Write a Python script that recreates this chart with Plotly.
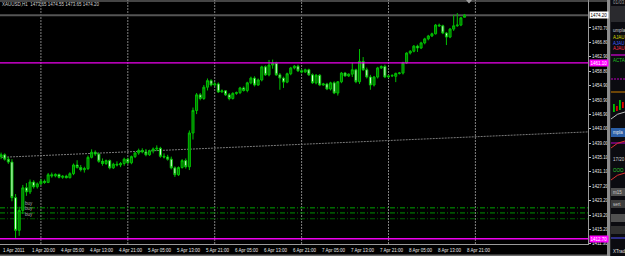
import plotly.graph_objects as go

# ---------------- data (XAUUSD H1) ----------------
bar_open = [1435.3, 1435.8, 1434.6, 1433.8, 1424.0, 1415.0, 1420.5, 1426.7, 1425.6, 1428.3,
            1427.0, 1427.8, 1428.5, 1428.2, 1430.3, 1430.0, 1430.4, 1429.6, 1429.9, 1429.5,
            1430.6, 1433.0, 1432.3, 1431.7, 1432.0, 1435.1, 1436.5, 1436.0, 1434.0, 1433.4,
            1434.2, 1432.2, 1433.2, 1433.0, 1433.4, 1434.6, 1433.6, 1435.3, 1436.3, 1437.0,
            1436.6, 1435.8, 1436.9, 1437.4, 1437.6, 1435.4, 1435.2, 1434.6, 1432.2, 1430.3,
            1432.3, 1434.2, 1432.5, 1441.8, 1448.0, 1452.3, 1451.3, 1454.4, 1456.2, 1455.0,
            1455.3, 1453.1, 1453.4, 1452.3, 1451.3, 1452.7, 1452.9, 1454.2, 1453.5, 1455.6,
            1456.9, 1455.0, 1456.4, 1460.0, 1457.8, 1460.5, 1461.0, 1457.8, 1456.9, 1455.8,
            1458.1, 1459.7, 1460.2, 1458.9, 1458.6, 1459.2, 1457.8, 1455.6, 1457.7, 1455.0,
            1455.3, 1453.9, 1455.6, 1452.8, 1455.9, 1458.3, 1457.5, 1458.0, 1459.2, 1455.9,
            1461.5, 1459.2, 1457.2, 1455.0, 1457.2, 1459.7, 1460.1, 1457.2, 1457.5, 1457.4,
            1458.2, 1458.3, 1461.1, 1463.8, 1464.3, 1465.7, 1465.2, 1466.6, 1467.7, 1468.5,
            1469.1, 1471.5, 1471.3, 1469.3, 1468.2, 1470.4, 1471.3, 1471.5, 1473.65]
bar_high = [1436.4, 1436.2, 1435.2, 1434.6, 1425.0, 1421.5, 1427.5, 1428.0, 1429.0, 1428.8,
            1428.2, 1429.2, 1429.0, 1430.8, 1430.9, 1430.7, 1430.6, 1430.2, 1430.3, 1431.0,
            1433.4, 1434.3, 1433.0, 1432.5, 1435.6, 1437.3, 1437.0, 1436.4, 1434.8, 1434.5,
            1434.5, 1433.6, 1434.0, 1433.8, 1435.0, 1435.0, 1435.6, 1436.6, 1437.5, 1437.6,
            1437.4, 1437.2, 1437.8, 1438.4, 1438.0, 1436.2, 1435.8, 1435.3, 1432.6, 1432.6,
            1434.6, 1434.8, 1442.5, 1448.8, 1452.8, 1452.8, 1455.0, 1456.8, 1456.6, 1455.8,
            1455.7, 1453.8, 1453.6, 1452.8, 1453.0, 1453.2, 1454.5, 1454.6, 1455.9, 1457.3,
            1457.4, 1456.8, 1460.3, 1460.4, 1461.9, 1462.0, 1461.4, 1458.3, 1457.3, 1458.4,
            1460.0, 1460.5, 1460.6, 1459.4, 1459.5, 1459.5, 1458.2, 1458.0, 1458.0, 1455.6,
            1455.6, 1455.9, 1456.0, 1456.1, 1458.6, 1458.6, 1458.2, 1461.1, 1459.5, 1464.9,
            1462.7, 1459.8, 1457.8, 1457.5, 1460.0, 1460.4, 1460.6, 1457.8, 1458.0, 1458.4,
            1458.6, 1461.4, 1464.0, 1464.6, 1466.0, 1466.1, 1466.9, 1468.0, 1468.8, 1469.4,
            1471.8, 1471.9, 1471.6, 1469.6, 1470.7, 1474.3, 1474.8, 1473.7, 1474.55]
bar_low = [1434.6, 1434.2, 1433.3, 1423.0, 1412.7, 1413.5, 1419.5, 1424.5, 1425.0, 1426.5,
           1426.5, 1427.5, 1427.8, 1428.0, 1429.5, 1429.6, 1429.3, 1429.2, 1429.3, 1429.3,
           1430.2, 1432.0, 1431.2, 1430.9, 1431.6, 1434.8, 1435.5, 1433.6, 1432.8, 1433.0,
           1431.8, 1431.9, 1432.6, 1432.4, 1432.8, 1433.2, 1433.2, 1434.9, 1435.8, 1436.2,
           1435.4, 1435.5, 1436.2, 1436.8, 1435.0, 1434.8, 1434.2, 1431.8, 1429.7, 1430.0,
           1432.0, 1432.0, 1431.6, 1440.0, 1447.0, 1450.8, 1450.9, 1453.5, 1454.6, 1454.7,
           1452.8, 1452.9, 1452.0, 1450.8, 1451.0, 1452.3, 1452.5, 1453.2, 1453.0, 1455.2,
           1454.6, 1454.8, 1456.0, 1457.5, 1457.4, 1459.5, 1457.5, 1453.7, 1454.2, 1455.5,
           1457.7, 1459.3, 1458.6, 1458.2, 1458.3, 1457.5, 1455.3, 1455.2, 1454.7, 1454.8,
           1453.6, 1453.5, 1452.5, 1452.1, 1455.5, 1457.3, 1457.2, 1457.2, 1455.5, 1455.3,
           1458.9, 1456.8, 1453.7, 1454.6, 1456.8, 1459.4, 1456.9, 1457.0, 1457.2, 1455.8,
           1457.9, 1457.9, 1460.8, 1463.4, 1464.0, 1464.1, 1464.9, 1466.2, 1467.3, 1468.2,
           1468.9, 1471.0, 1469.0, 1466.0, 1467.9, 1469.9, 1471.0, 1471.2, 1473.65]
bar_close = [1435.8, 1434.6, 1433.8, 1424.0, 1415.0, 1420.5, 1426.7, 1425.6, 1428.3, 1427.0,
             1427.8, 1428.5, 1428.2, 1430.3, 1430.0, 1430.4, 1429.6, 1429.9, 1429.5, 1430.6,
             1433.0, 1432.3, 1431.7, 1432.0, 1435.1, 1436.5, 1436.0, 1434.0, 1433.4, 1434.2,
             1432.2, 1433.2, 1433.0, 1433.4, 1434.6, 1433.6, 1435.3, 1436.3, 1437.0, 1436.6,
             1435.8, 1436.9, 1437.4, 1437.6, 1435.4, 1435.2, 1434.6, 1432.2, 1430.3, 1432.3,
             1434.2, 1432.5, 1441.8, 1448.0, 1452.3, 1451.3, 1454.4, 1456.2, 1455.0, 1455.3,
             1453.1, 1453.4, 1452.3, 1451.3, 1452.7, 1452.9, 1454.2, 1453.5, 1455.6, 1456.9,
             1455.0, 1456.4, 1460.0, 1457.8, 1460.5, 1461.0, 1457.8, 1456.9, 1455.8, 1458.1,
             1459.7, 1460.2, 1458.9, 1458.6, 1459.2, 1457.8, 1455.6, 1457.7, 1455.0, 1455.3,
             1453.9, 1455.6, 1452.8, 1455.9, 1458.3, 1457.5, 1458.0, 1459.2, 1455.9, 1461.5,
             1459.2, 1457.2, 1455.0, 1457.2, 1459.7, 1460.1, 1457.2, 1457.5, 1457.6, 1458.2,
             1458.3, 1461.1, 1463.8, 1464.3, 1465.7, 1465.2, 1466.6, 1467.7, 1468.5, 1469.1,
             1471.5, 1471.3, 1469.3, 1468.2, 1470.4, 1471.3, 1471.5, 1473.5, 1474.20]
bar_index = list(range(len(bar_close)))

time_label_pos = [0, 8, 16, 24, 32, 40, 48, 56, 64, 72, 80, 88, 96, 104, 112, 120, 128]
time_labels = ["1 Apr 2011", "1 Apr 20:00", "4 Apr 05:00", "4 Apr 13:00", "4 Apr 21:00",
               "5 Apr 05:00", "5 Apr 13:00", "5 Apr 21:00", "6 Apr 05:00", "6 Apr 13:00",
               "6 Apr 21:00", "7 Apr 05:00", "7 Apr 13:00", "7 Apr 21:00", "8 Apr 05:00",
               "8 Apr 13:00", "8 Apr 21:00"]
day_separators = [11, 35, 59, 83, 107, 131]

price_ticks = [1470.70, 1466.80, 1462.90, 1458.80, 1454.90, 1450.90, 1446.90, 1443.00,
               1439.00, 1435.10, 1431.10, 1427.20, 1423.20, 1419.20, 1415.20, 1411.30]
bid_price = 1474.20
magenta_levels = [1461.10, 1412.70]
buy_levels = [1421.20, 1419.80, 1418.20]
buy_names = ["buy", "buy", "buy"]
trend_x = [0, 162]
trend_y = [1435.1, 1442.1]
title_text = "XAUUSD,H1  1473.65 1474.55 1473.65 1474.20"

# ---------------- figure ----------------
W, H = 625, 256
PW, PH = 588, 244
FONT = "Liberation Sans, Arial, sans-serif"
FS = 4.5

def px(X):
    return X / PW

def py(Y):
    return 1 - Y / PH

fig = go.Figure()
fig.add_trace(go.Candlestick(
    x=bar_index, open=bar_open, high=bar_high, low=bar_low, close=bar_close,
    increasing=dict(line=dict(color="#00c000", width=1), fillcolor="#007000"),
    decreasing=dict(line=dict(color="#00c000", width=1), fillcolor="#e6ffe6"),
    whiskerwidth=0, showlegend=False, hoverinfo="skip"))

shapes = []
for d in day_separators:
    shapes.append(dict(type="line", xref="x", yref="paper", x0=d, x1=d, y0=0, y1=1,
                       line=dict(color="#808080", width=1, dash="2px,1px"), layer="below"))
shapes.append(dict(type="line", xref="x", yref="y", x0=trend_x[0], x1=trend_x[1],
                   y0=trend_y[0], y1=trend_y[1],
                   line=dict(color="#7a7a7a", width=1, dash="2px,1px"), layer="below"))
buy_colors = ["#00a000", "#009000", "#005a00"]
for lvl, c in zip(buy_levels, buy_colors):
    shapes.append(dict(type="line", xref="paper", yref="y", x0=0, x1=1, y0=lvl, y1=lvl,
                       line=dict(color=c, width=1, dash="5px,2px,1px,2px"), layer="below"))
shapes.append(dict(type="line", xref="paper", yref="y", x0=0, x1=1, y0=bid_price, y1=bid_price,
                   line=dict(color="#555555", width=2), layer="below"))
for lvl in magenta_levels:
    shapes.append(dict(type="line", xref="paper", yref="y", x0=0, x1=1, y0=lvl, y1=lvl,
                       line=dict(color="#f000f0", width=1.4), layer="above"))
# top window border
shapes.append(dict(type="line", xref="paper", yref="paper", x0=0, x1=px(607), y0=py(1), y1=py(1),
                   line=dict(color="#8a8a8a", width=1)))
# chart shift marker
shapes.append(dict(type="path", xref="paper", yref="paper",
                   path=f"M {px(466)},{py(0)} L {px(472)},{py(0)} L {px(469)},{py(3.5)} Z",
                   fillcolor="#a0a0a0", line=dict(width=0)))
# bottom border strip
shapes.append(dict(type="rect", xref="paper", yref="paper", x0=0, x1=px(607), y0=py(256), y1=py(254.5),
                   fillcolor="#6a6a6a", line=dict(width=0)))

# right-hand partial window
shapes.append(dict(type="rect", xref="paper", yref="paper", x0=px(607), x1=px(610.5), y0=py(256), y1=py(0),
                   fillcolor="#8c8c8c", line=dict(width=0)))
shapes.append(dict(type="rect", xref="paper", yref="paper", x0=px(610.5), x1=px(625), y0=py(256), y1=py(0),
                   fillcolor="#0b0b10", line=dict(width=0)))
shapes.append(dict(type="rect", xref="paper", yref="paper", x0=px(610.5), x1=px(625), y0=py(22), y1=py(6),
                   fillcolor="#2a2a2e", line=dict(width=0)))
panel_lines = [(55, "#ff00ff", "solid"), (79, "#c000c0", "2px,1px"), (92, "#d08000", "solid"),
               (143, "#c000c0", "solid"), (238, "#5050ff", "solid")]
for Y, c, ds in panel_lines:
    shapes.append(dict(type="line", xref="paper", yref="paper", x0=px(611), x1=px(625), y0=py(Y), y1=py(Y),
                       line=dict(color=c, width=1, dash=ds)))
panel_boxes = [(128, 137, "#2b5fa8"), (188, 196, "#505050"), (200, 208, "#3c3c3c"),
               (214, 222, "#505050"), (226, 234, "#303030")]
for y0, y1, c in panel_boxes:
    shapes.append(dict(type="rect", xref="paper", yref="paper", x0=px(611), x1=px(625), y0=py(y1), y1=py(y0),
                       fillcolor=c, line=dict(width=0)))
panel_candles = [(613, 104, 112, "#00c000"), (616, 106, 111, "#e00000"), (619, 100, 110, "#00c000"),
                 (622, 102, 108, "#e00000")]
for X, y0, y1, c in panel_candles:
    shapes.append(dict(type="rect", xref="paper", yref="paper", x0=px(X), x1=px(X + 1.8), y0=py(y1), y1=py(y0),
                       fillcolor=c, line=dict(width=0)))
shapes.append(dict(type="path", xref="paper", yref="paper",
                   path=f"M {px(611)},{py(119)} Q {px(617)},{py(113)} {px(625)},{py(112)}",
                   line=dict(color="#c0c0c0", width=1)))
shapes.append(dict(type="path", xref="paper", yref="paper",
                   path=f"M {px(611)},{py(148)} Q {px(617)},{py(142)} {px(625)},{py(141)}",
                   line=dict(color="#e03030", width=1)))
shapes.append(dict(type="path", xref="paper", yref="paper",
                   path=f"M {px(611)},{py(180)} Q {px(617)},{py(174)} {px(625)},{py(173)}",
                   line=dict(color="#e03030", width=1)))

annotations = []
annotations.append(dict(xref="paper", yref="paper", x=0, y=py(5), xanchor="left", yanchor="middle",
                        text=title_text, showarrow=False, font=dict(family=FONT, size=FS, color="#d0d0d0")))
for pos, lab in zip(time_label_pos, time_labels):
    annotations.append(dict(xref="x", yref="paper", x=pos, y=0, xanchor="left", yanchor="top", yshift=-2,
                            text=lab, showarrow=False, font=dict(family=FONT, size=FS, color="#e8e8e8")))
for lvl, name in zip(buy_levels, buy_names):
    annotations.append(dict(xref="paper", yref="y", x=px(23), y=lvl, xanchor="left", yanchor="bottom",
                            text=name, showarrow=False, font=dict(family=FONT, size=FS, color="#b0b0b0")))
annotations.append(dict(xref="paper", yref="y", x=1, y=bid_price, xanchor="left", yanchor="middle", xshift=1,
                        text=f"{bid_price:.2f}", showarrow=False, bgcolor="#ffffff", borderpad=0.5,
                        font=dict(family=FONT, size=FS, color="#000000")))
for lvl in magenta_levels:
    annotations.append(dict(xref="paper", yref="y", x=1, y=lvl, xanchor="left", yanchor="middle", xshift=1,
                            text=f"{lvl:.2f}", showarrow=False, bgcolor="#ff00ff", borderpad=0.5,
                            font=dict(family=FONT, size=FS, color="#ffffff")))
panel_texts = [("01/03", 611, 2, "#9a9a9a"), ("umpla", 610.5, 31, "#d0d0d0"), ("AJAU", 611, 37, "#d8d800"),
               ("AJAU", 611, 43, "#4060ff"), ("AJAU", 611, 49, "#ff3050"), ("ACTA", 611, 60, "#20c020"),
               ("mpla", 611, 132, "#e8e8e8"), ("17/20", 610.5, 159, "#d0d0d0"), ("OOO", 611, 170, "#30d030"),
               ("m15", 611, 192, "#c8c8c8"), ("sert", 611, 204, "#c8c8c8"), ("XTrad", 610.5, 251, "#e0e0e0")]
for t, X, Y, c in panel_texts:
    annotations.append(dict(xref="paper", yref="paper", x=px(X), y=py(Y), xanchor="left", yanchor="middle",
                            text=t, showarrow=False, font=dict(family=FONT, size=FS, color=c)))

fig.update_layout(
    width=W, height=H, margin=dict(l=0, r=W - PW, t=0, b=H - PH),
    paper_bgcolor="#000000", plot_bgcolor="#000000",
    shapes=shapes, annotations=annotations, showlegend=False, boxgap=0.2,
    xaxis=dict(range=[-0.3, 162.1], showgrid=False, zeroline=False, showticklabels=False,
               showline=True, linecolor="#9a9a9a", linewidth=1, rangeslider=dict(visible=False),
               fixedrange=True),
    yaxis=dict(range=[1411.25, 1478.4], side="right", showgrid=False, zeroline=False,
               tickvals=price_ticks, ticktext=[f"{v:.2f}" for v in price_ticks],
               ticks="outside", ticklen=2, tickcolor="#c0c0c0",
               tickfont=dict(family=FONT, size=FS, color="#e6e6e6"),
               showline=True, linecolor="#9a9a9a", linewidth=1, fixedrange=True),
)

fig.write_html("out.html")
